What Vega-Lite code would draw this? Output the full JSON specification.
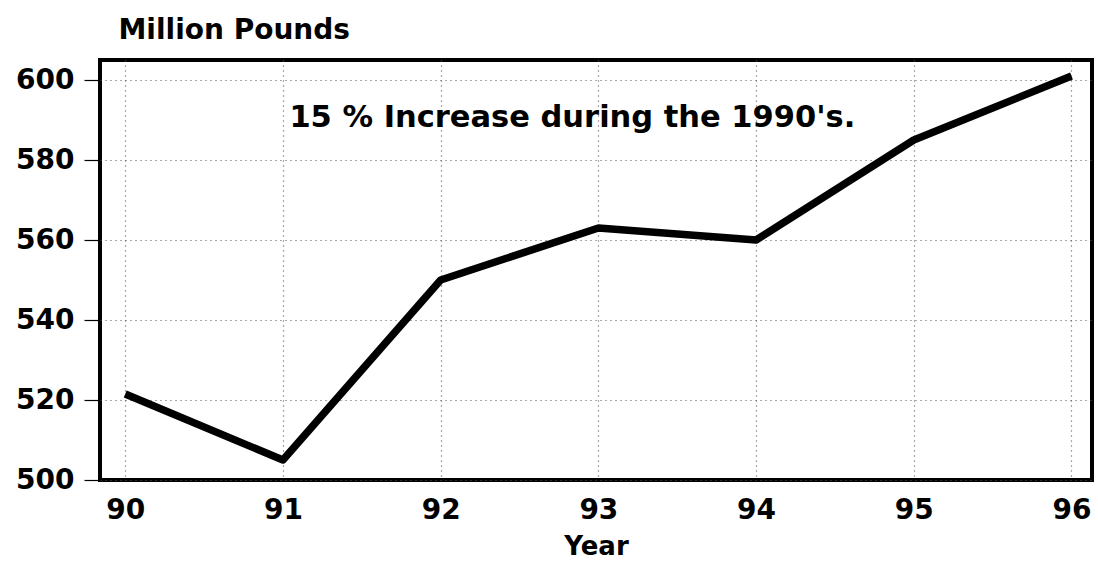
{
  "$schema": "https://vega.github.io/schema/vega-lite/v6.json",
  "width": 992,
  "height": 420,
  "autosize": "none",
  "padding": {"left": 100, "top": 60, "right": 6, "bottom": 82},
  "background": "white",
  "config": {
    "view": {"stroke": "black", "strokeWidth": 4},
    "font": "DejaVu Sans"
  },
  "layer": [
    {
      "data": {"values": [
        {"year": 90, "pounds": 521.5},
        {"year": 91, "pounds": 505},
        {"year": 92, "pounds": 550},
        {"year": 93, "pounds": 563},
        {"year": 94, "pounds": 560},
        {"year": 95, "pounds": 585},
        {"year": 96, "pounds": 601}
      ]},
      "mark": {"type": "line", "color": "black", "strokeWidth": 7.5, "strokeJoin": "round", "strokeCap": "butt"},
      "encoding": {
        "x": {
          "field": "year", "type": "quantitative",
          "scale": {"domain": [89.84, 96.13], "nice": false, "zero": false},
          "axis": {
            "values": [90, 91, 92, 93, 94, 95, 96],
            "format": "d",
            "title": "Year",
            "titleFont": "DejaVu Sans", "titleFontSize": 26, "titleFontWeight": "bold", "titleColor": "black",
            "titlePadding": 9,
            "labelFont": "DejaVu Sans", "labelFontSize": 28, "labelFontWeight": "bold", "labelColor": "black",
            "labelPadding": 16,
            "ticks": false,
            "domain": false,
            "grid": true, "gridColor": "#555", "gridDash": [1, 4], "gridWidth": 1.2
          }
        },
        "y": {
          "field": "pounds", "type": "quantitative",
          "scale": {"domain": [500, 605], "nice": false, "zero": false},
          "axis": {
            "values": [500, 520, 540, 560, 580, 600],
            "title": "Million Pounds",
            "titleAngle": 0, "titleAlign": "left", "titleBaseline": "middle",
            "titleX": 18, "titleY": -30,
            "titleFont": "DejaVu Sans", "titleFontSize": 28, "titleFontWeight": "bold", "titleColor": "black",
            "labelFont": "DejaVu Sans", "labelFontSize": 28, "labelFontWeight": "bold", "labelColor": "black",
            "labelPadding": 10,
            "tickSize": 16, "tickColor": "black", "tickWidth": 1.2,
            "domain": false,
            "grid": true, "gridColor": "#555", "gridDash": [1, 4], "gridWidth": 1.2
          }
        }
      }
    },
    {
      "data": {"values": [
        {"label": "15 % Increase during the 1990's.", "year": 92.835, "pounds": 590.5}
      ]},
      "mark": {"type": "text", "font": "DejaVu Sans", "fontSize": 30.5, "fontWeight": "bold", "color": "black", "align": "center", "baseline": "middle"},
      "encoding": {
        "x": {"field": "year", "type": "quantitative"},
        "y": {"field": "pounds", "type": "quantitative"},
        "text": {"field": "label"}
      }
    }
  ]
}
